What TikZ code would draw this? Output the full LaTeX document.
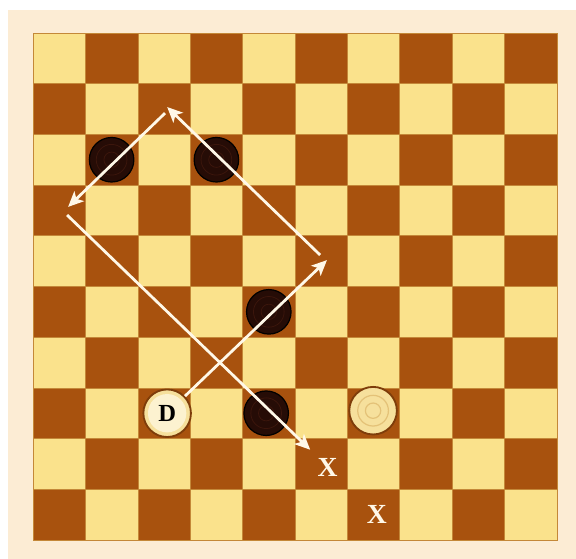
\documentclass[tikz,border=0pt]{standalone}
\usepackage{fontspec}
\usepackage{tikz}
\usetikzlibrary{arrows.meta,positioning,calc}
\newfontfamily\markfont{Liberation Serif}
\definecolor{boardlight}{RGB}{250,226,140}
\definecolor{boarddark}{RGB}{168,82,14}
\definecolor{boardline}{RGB}{196,136,56}
\definecolor{framecream}{RGB}{252,236,212}
\definecolor{manblack}{RGB}{38,12,6}
\definecolor{manring}{RGB}{60,22,12}
\definecolor{manwhite}{RGB}{246,224,156}
\definecolor{whitering}{RGB}{228,194,120}
\definecolor{kingface}{RGB}{252,242,208}
\definecolor{pathwhite}{RGB}{255,248,232}
\tikzset{
  sqlight/.style={fill=boardlight, draw=boardline, line width=0.4pt},
  sqdark/.style={fill=boarddark, draw=boardline, line width=0.4pt},
  blackman/.style={circle, fill=manblack, draw=black, line width=0.8pt, minimum size=29pt, inner sep=0pt},
  whiteman/.style={circle, fill=manwhite, draw=boarddark!75!black, line width=1.2pt, minimum size=31pt, inner sep=0pt},
  kingman/.style={whiteman, font=\markfont\fontsize{16}{16}\selectfont\bfseries,
    path picture={\fill[kingface] (path picture bounding box.center) circle (12.5pt);}},
  target/.style={text=pathwhite, font=\markfont\fontsize{18}{18}\selectfont\bfseries, inner sep=0pt},
  jump/.style={-{Stealth[length=10pt,width=9pt,inset=2.5pt]}, pathwhite, line width=1.8pt},
}

\begin{document}
\begin{tikzpicture}[x=1.2cm,y={(0cm,-1.161cm)}]
  \useasboundingbox[fill=white] (-0.630,-0.651) rectangle (10.363,10.375);
  \fill[framecream] (-0.477,-0.454) rectangle (10.363,10.375);
  % board
  \foreach \r in {0,...,9} {
    \foreach \c in {0,...,9} {
      \pgfmathtruncatemacro{\odd}{mod(\r+\c,2)}
      \ifnum\odd=1 \path[sqdark] (\c,\r) rectangle ++(1,1);
      \else \path[sqlight] (\c,\r) rectangle ++(1,1); \fi
    }
  }
  % men
  \node[blackman] (b1) at (1.5,2.5) {};
  \node[blackman] (b2) at (3.5,2.5) {};
  \node[blackman] (b3) at (4.5,5.5) {};
  \node[blackman] (b4) at (4.45,7.5) {};
  \foreach \m in {b1,b2,b3,b4} {
    \draw[manring, line width=0.5pt] (\m) circle (10pt) (\m) circle (5pt);
  }
  \node[whiteman] (w1) at (6.49,7.45) {};
  \draw[whitering, line width=0.8pt] (w1) circle (10pt) (w1) circle (5pt);
  \node[kingman] (D) at (2.56,7.5) {D};
  % capture route
  \coordinate (t1) at (5.61,4.48);
  \coordinate (s2) at (5.48,4.38);
  \coordinate (t2) at (2.56,1.46);
  \coordinate (s3) at (2.52,1.58);
  \coordinate (t3) at (0.67,3.43);
  \coordinate (s4) at (0.65,3.59);
  \coordinate (t4) at (5.29,8.22);
  \draw[jump] (D) -- (t1);
  \draw[jump] (s2) -- (t2);
  \draw[jump] (s3) -- (t3);
  \draw[jump] (s4) -- (t4);
  % landing squares
  \node[target] (x1) at (5.62,8.56) {X};
  \node[target] (x2) at (6.56,9.50) {X};
\end{tikzpicture}
\end{document}
